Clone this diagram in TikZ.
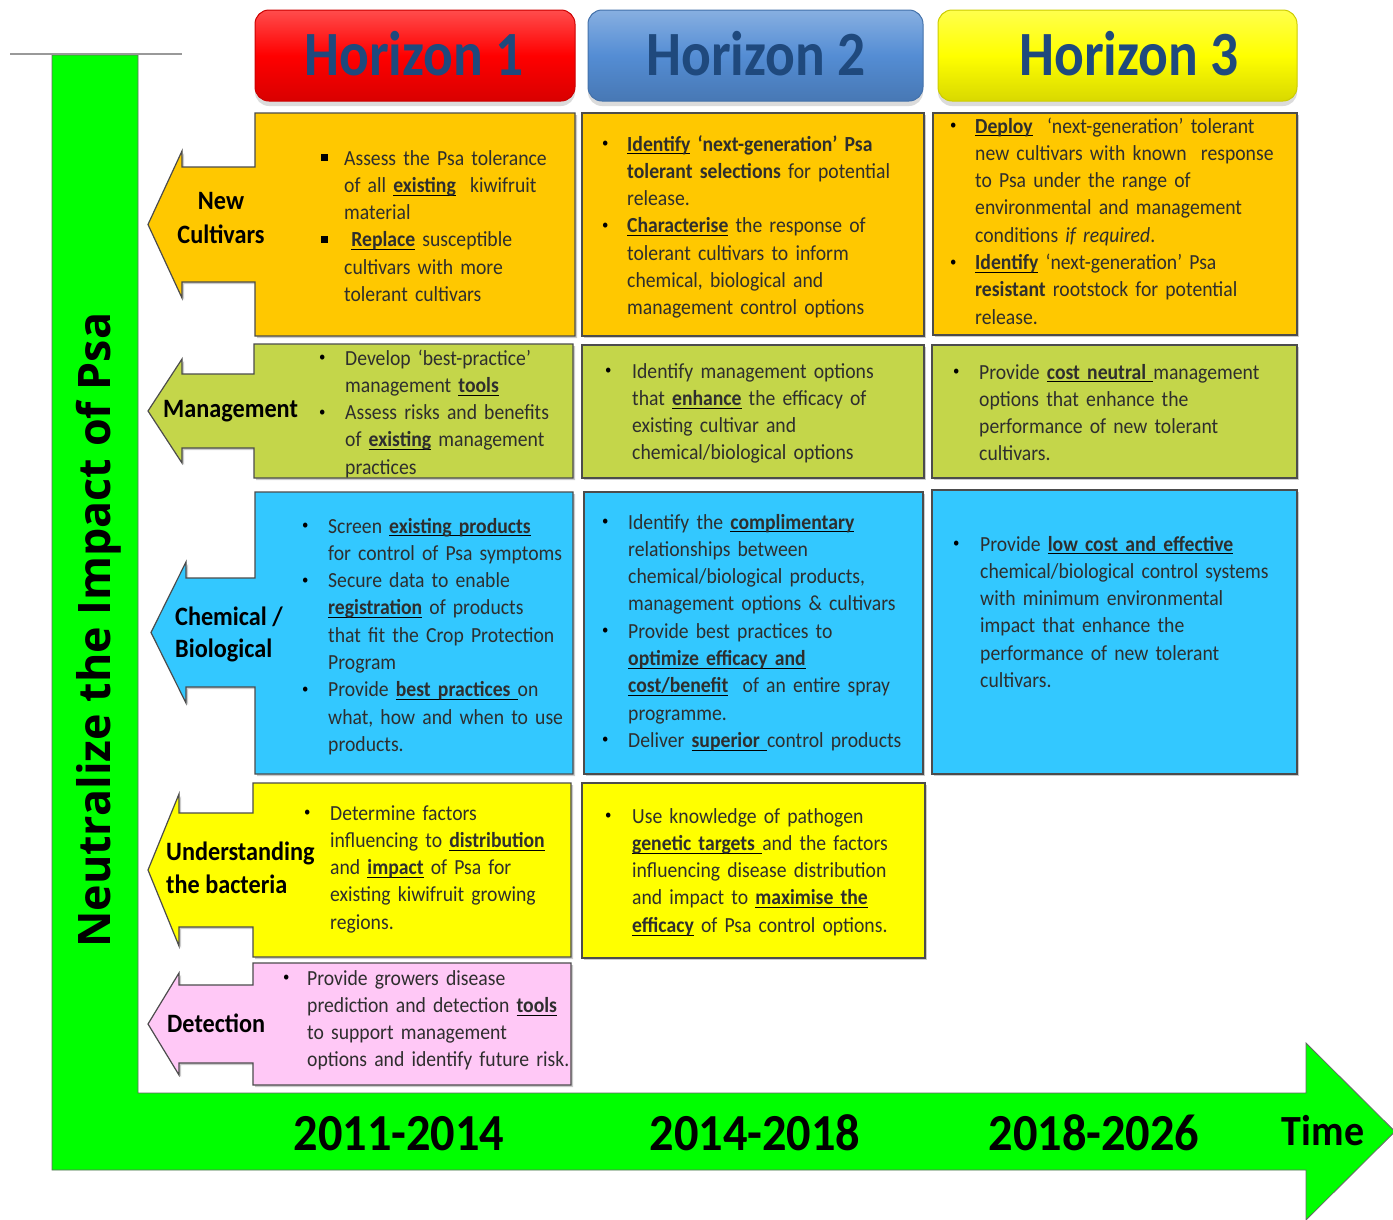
\documentclass[tikz,border=0pt]{standalone}
\usepackage{fontspec}
\setmainfont{Carlito}
\newfontfamily\bodyf[FakeStretch=0.915]{Carlito}
\newfontfamily\headf[FakeStretch=0.88]{Carlito}
\newfontfamily\yearf[FakeStretch=0.93]{Carlito}
\newfontfamily\vertf{Open Sans}
\setlength{\parindent}{0pt}
\definecolor{orangeC}{RGB}{255,200,0}
\definecolor{oliveC}{RGB}{196,214,74}
\definecolor{cyanC}{RGB}{51,200,255}
\definecolor{yellowC}{RGB}{255,255,0}
\definecolor{pinkC}{RGB}{255,200,246}
\definecolor{greenC}{RGB}{0,255,0}
\definecolor{htext}{RGB}{31,73,125}
\definecolor{hred}{RGB}{255,0,0}
\definecolor{hblue}{RGB}{84,141,212}
\definecolor{hyellow}{RGB}{255,255,0}
\newsavebox\ulbox
\newcommand\UL[1]{\leavevmode\sbox\ulbox{#1}\rlap{\color{black}\rule[-3.3pt]{\wd\ulbox}{1pt}}\usebox\ulbox}
\newcommand\UB[1]{\UL{\textbf{#1}}}
\newcommand\bult[1][28]{\leavevmode\llap{\makebox[#1pt][l]{\color{black}\fontsize{14}{14}\selectfont\raisebox{3.5pt}{\textbullet}}}}
\newcommand\sqbul[1][23]{\leavevmode\llap{\makebox[#1pt][l]{\color{black}\raisebox{4pt}{\rule{7pt}{7pt}}}}}
\tikzset{
  txt/.style={anchor=base west, inner sep=0pt, text width=360pt, align=left,
    font=\bodyf\fontsize{21.5}{27.3}\selectfont, text=black!82},
  lab/.style={anchor=base west, inner sep=0pt,
    font=\bodyf\bfseries\fontsize{26.5}{33}\selectfont},
  cell/.style={draw=black!70, line width=1.2pt,
    preaction={fill=black!45, opacity=0.45, transform canvas={xshift=2pt,yshift=-2pt}}},
  hbtn/.style={rounded corners=14pt, draw=#1!80!black, line width=1pt,
    top color=#1!70!white, bottom color=#1!85!black, middle color=#1,
    preaction={fill=black!35, opacity=0.4, transform canvas={yshift=-5pt}}},
  htxt/.style={anchor=base, inner sep=0pt, text=htext,
    font=\headf\bfseries\fontsize{63}{63}\selectfont},
  yeartxt/.style={anchor=base, inner sep=0pt,
    font=\yearf\bfseries\fontsize{52}{52}\selectfont}
}
\begin{document}
\begin{tikzpicture}[x=1pt,y=-1pt]
\useasboundingbox (0,0) rectangle (1393,1219);
% L-shaped axis
\path[draw=black!60, line width=0.8pt, fill=greenC]
  (52,55) -- (138,55) -- (138,1093) -- (1306,1093) -- (1306,1043)
  -- (1395,1131.5) -- (1306,1220) -- (1306,1170) -- (52,1170) -- cycle;
\draw[gray!80, line width=1.5pt] (10,54) -- (182,54);
\node[rotate=90, anchor=base west, inner sep=0pt, font=\vertf\bfseries] (vt) at (110,948)
  {\resizebox{635pt}{!}{Neutralize the Impact of Psa}};
% header buttons
\path[hbtn=hred] (255,10) rectangle (575,101);
\path[hbtn=hblue] (588,10) rectangle (923,101);
\path[hbtn=hyellow] (938,10) rectangle (1297,101);
\node[htxt] (h1) at (414,75) {Horizon 1};
\node[htxt] (h2) at (756,75) {Horizon 2};
\node[htxt] (h3) at (1129,75) {Horizon 3};
% horizon 1 callouts
\path[cell, fill=orangeC] (255,113) -- (575,113) -- (575,336) -- (255,336) -- (255,282)
  -- (182,282) -- (182,298) -- (148,224.5) -- (182,151) -- (182,167) -- (255,167) -- cycle;
\path[cell, fill=oliveC] (254,344) -- (573,344) -- (573,478) -- (254,478) -- (254,448)
  -- (182,448) -- (182,463) -- (148,411) -- (182,359) -- (182,374) -- (254,374) -- cycle;
\path[cell, fill=cyanC] (255,492) -- (573,492) -- (573,774) -- (255,774) -- (255,687)
  -- (186,687) -- (186,703) -- (151,632.5) -- (186,562) -- (186,578) -- (255,578) -- cycle;
\path[cell, fill=yellowC] (253,783) -- (571,783) -- (571,957) -- (253,957) -- (253,927)
  -- (179,927) -- (179,946) -- (148,870) -- (179,794) -- (179,813) -- (253,813) -- cycle;
\path[cell, fill=pinkC] (253,963) -- (571,963) -- (571,1085) -- (253,1085) -- (253,1063)
  -- (179,1063) -- (179,1075) -- (148,1024) -- (179,973) -- (179,985) -- (253,985) -- cycle;
% horizon 2 and 3 cells
\path[cell, fill=orangeC] (582,113) rectangle (924,336);
\path[cell, fill=orangeC] (933,113) rectangle (1297,335);
\path[cell, fill=oliveC] (582,345) rectangle (924,478);
\path[cell, fill=oliveC] (932,345) rectangle (1297,478);
\path[cell, fill=cyanC] (584,492) rectangle (923,774);
\path[cell, fill=cyanC] (932,490) rectangle (1297,774);
\path[cell, fill=yellowC] (582,783) rectangle (925,958);
% row labels
\node[lab, anchor=base] (l1a) at (221,209) {New};
\node[lab, anchor=base] (l1b) at (221,243) {Cultivars};
\node[lab] (l2) at (163,417) {Management};
\node[lab] (l3a) at (175,625) {Chemical /};
\node[lab] (l3b) at (175,657) {Biological};
\node[lab] (l4a) at (166,860) {Understanding};
\node[lab] (l4b) at (166,893) {the bacteria};
\node[lab] (l5) at (167,1032) {Detection};
% texts row 1
\node[txt] (t11) at (344,165) {\sqbul Assess the Psa tolerance\\
of all \UB{existing}\ \ kiwifruit\\
material\\
\sqbul\ \UB{Replace} susceptible\\
cultivars with more\\
tolerant cultivars};
\node[txt] (t12) at (627,151) {\bult[25]\UB{Identify} \textbf{‘next-generation’ Psa}\\
\textbf{tolerant selections} for potential\\
release.\\
\bult[25]\UB{Characterise} the response of\\
tolerant cultivars to inform\\
chemical, biological and\\
management control options};
\node[txt] (t13) at (975,133) {\bult[25]\UB{Deploy}\ \ ‘next-generation’ tolerant\\
new cultivars with known\ \ response\\
to Psa under the range of\\
environmental and management\\
conditions \textit{if required}.\\
\bult[25]\UB{Identify} ‘next-generation’ Psa\\
\textbf{resistant} rootstock for potential\\
release.};
% texts row 2
\node[txt] (t21) at (345,365) {\bult[26]Develop ‘best-practice’\\
management \UB{tools}\\
\bult[26]Assess risks and benefits\\
of \UB{existing} management\\
practices};
\node[txt] (t22) at (632,378) {\bult[27]Identify management options\\
that \UB{enhance} the efficacy of\\
existing cultivar and\\
chemical/biological options};
\node[txt] (t23) at (979,379) {\bult[26]Provide \UL{\textbf{cost neutral}\ }management\\
options that enhance the\\
performance of new tolerant\\
cultivars.};
% texts row 3
\node[txt] (t31) at (328,533) {\bult[26]Screen \UB{existing products}\\
for control of Psa symptoms\\
\bult[26]Secure data to enable\\
\UB{registration} of products\\
that fit the Crop Protection\\
Program\\
\bult[26]Provide \UL{\textbf{best practices}\ }on\\
what, how and when to use\\
products.};
\node[txt] (t32) at (628,529) {\bult[26]Identify the \UB{complimentary}\\
relationships between\\
chemical/biological products,\\
management options \& cultivars\\
\bult[26]Provide best practices to\\
\UB{optimize efficacy and}\\
\UB{cost/benefit}\ \ of an entire spray\\
programme.\\
\bult[26]Deliver \UL{\textbf{superior}\ }control products};
\node[txt] (t33) at (980,551) {\bult[27]Provide \UB{low cost and effective}\\
chemical/biological control systems\\
with minimum environmental\\
impact that enhance the\\
performance of new tolerant\\
cultivars.};
% texts row 4
\node[txt] (t41) at (330,820) {\bult[26]Determine factors\\
influencing to \UB{distribution}\\
and \UB{impact} of Psa for\\
existing kiwifruit growing\\
regions.};
\node[txt] (t42) at (632,823) {\bult[27]Use knowledge of pathogen\\
\UL{\textbf{genetic targets}\ }and the factors\\
influencing disease distribution\\
and impact to \UB{maximise the}\\
\UB{efficacy} of Psa control options.};
% texts row 5
\node[txt] (t51) at (307,985) {\bult[24]Provide growers disease\\
prediction and detection \UB{tools}\\
to support management\\
options and identify future risk.};
% time axis labels
\node[yeartxt] (y1) at (399,1150) {2011-2014};
\node[yeartxt] (y2) at (755,1150) {2014-2018};
\node[yeartxt] (y3) at (1094,1150) {2018-2026};
\node[yeartxt, font=\yearf\bfseries\fontsize{43}{43}\selectfont] (tm) at (1323,1145) {Time};
\end{tikzpicture}
\end{document}
